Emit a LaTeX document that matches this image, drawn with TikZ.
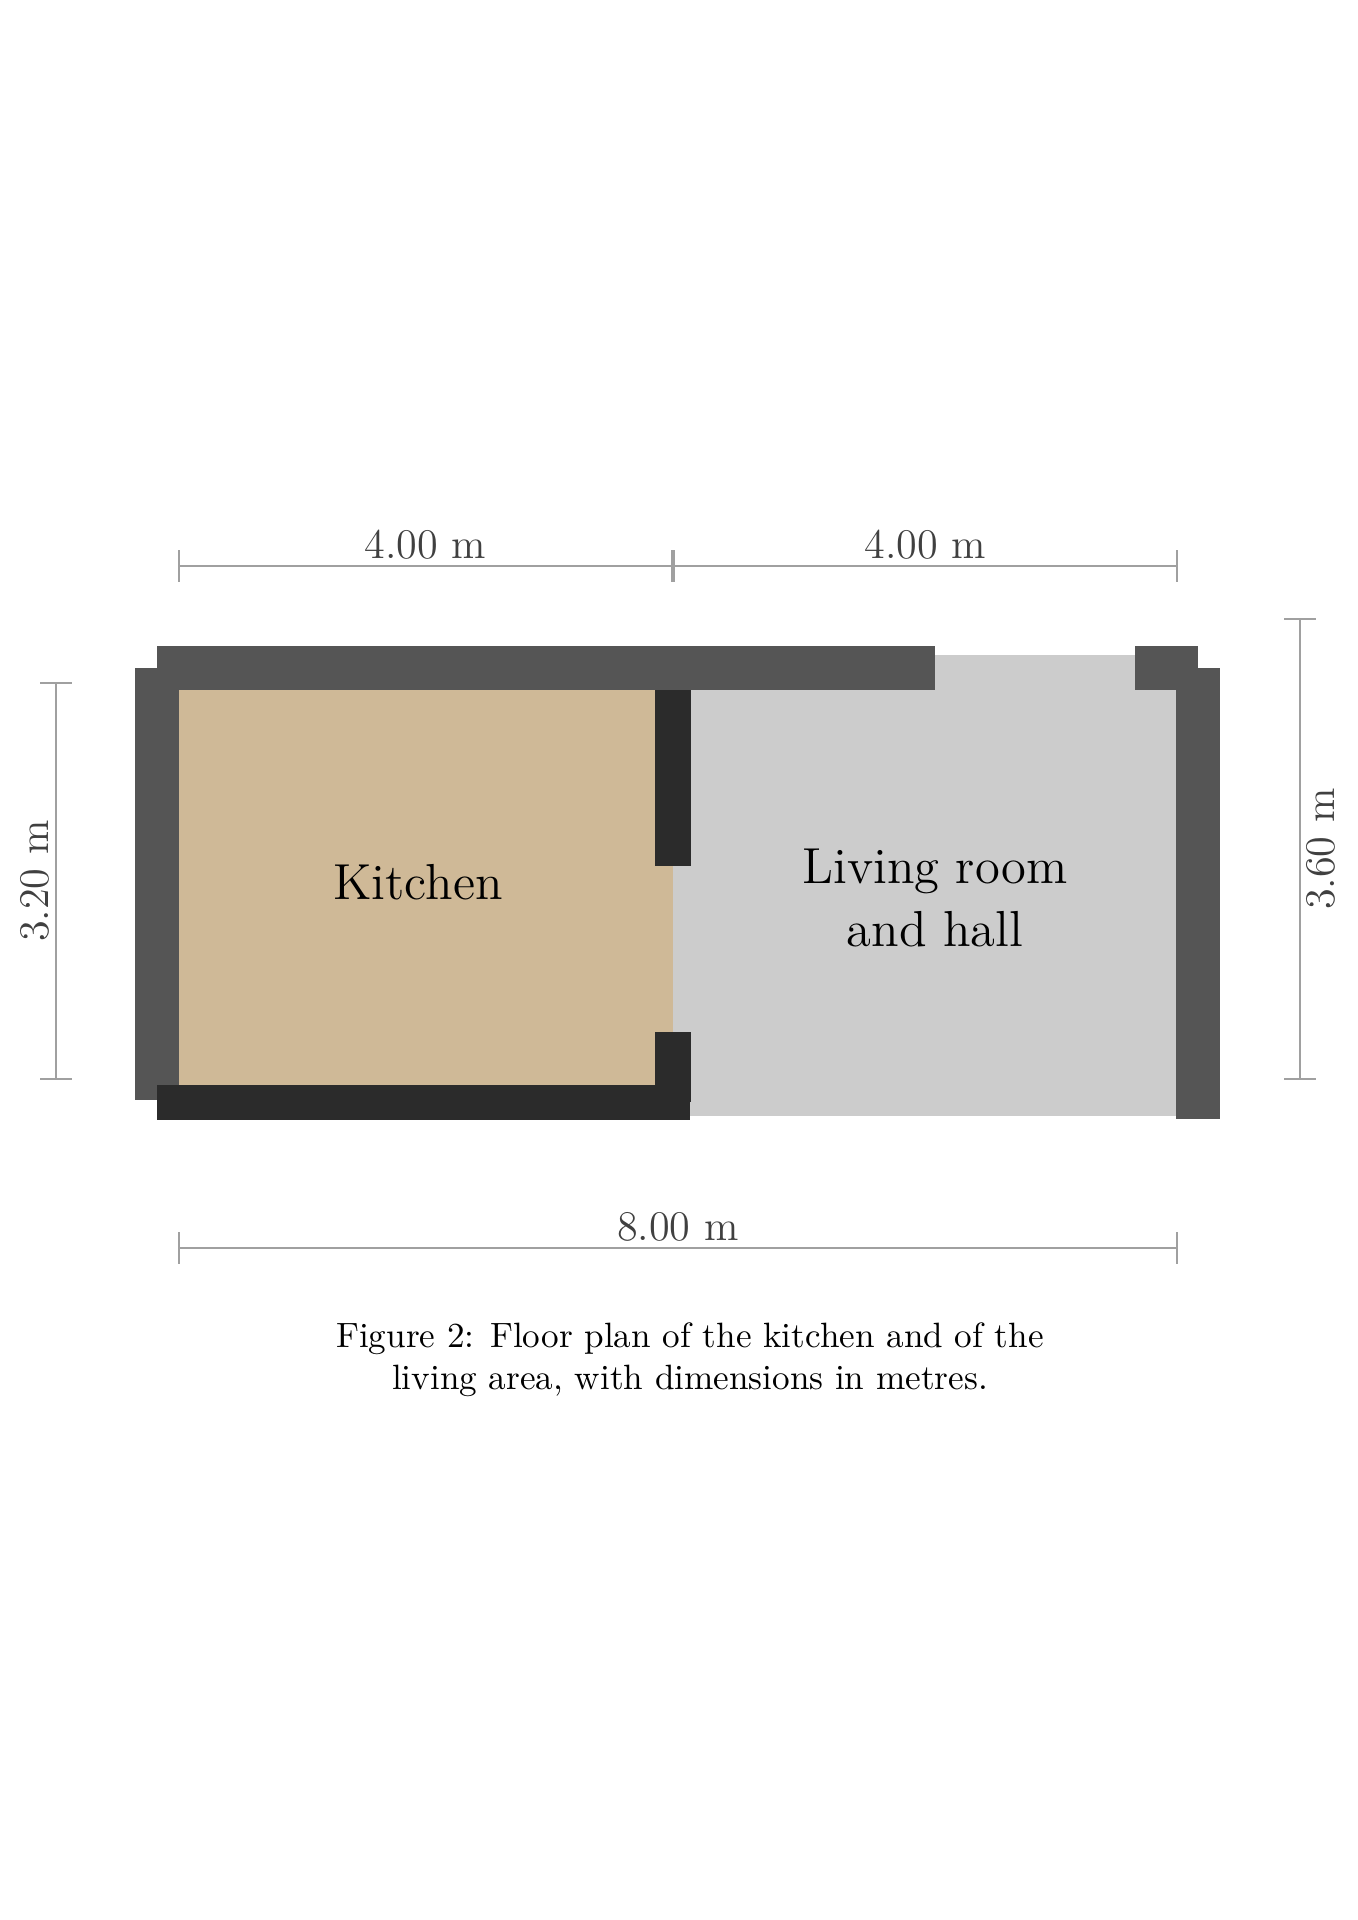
\documentclass[tikz,border=0pt]{standalone}
\usepackage{tikz}
\usetikzlibrary{arrows.meta}
\definecolor{wallgray}{HTML}{555555}
\definecolor{walldark}{HTML}{2B2B2B}
\definecolor{tanfill}{HTML}{CFB997}
\definecolor{roomgray}{HTML}{CCCCCC}
\definecolor{dimgray}{HTML}{A0A0A0}

\begin{document}
\begin{tikzpicture}[x=0.01cm,y=-0.01cm,
    wall/.style={wallgray,line width=0.44cm},
    partwall/.style={walldark,line width=0.35cm},
    dimline/.style={dimgray,line width=0.7pt,{Bar[width=9pt]}-{Bar[width=9pt]}},
    dimtext/.style={font=\large,text=black!75,inner sep=1.5pt},
    roomtext/.style={font=\Large,align=center}]
  \useasboundingbox (0,0) rectangle (1358,1920);

  \fill[tanfill] (157,668) rectangle (673,1100);
  \fill[roomgray] (673,655) rectangle (1198,1116);

  \draw[wall] (157,668) -- (157,1100);
  \draw[wall] (157,668) -- (935,668);
  \draw[wall] (1135,668) -- (1198,668);
  \draw[wall] (1198,668) -- (1198,1119);
  \draw[partwall] (157,1102) -- (690,1102);
  \draw[partwall] (673,690) -- (673,866);
  \draw[partwall] (673,1032) -- (673,1102);

  \node[roomtext] (kitchen) at (418,882) {Kitchen};
  \node[roomtext] (living) at (935,898) {Living room\\and hall};

  \coordinate (t1) at (178,566);
  \coordinate (t2) at (673,566);
  \coordinate (t3) at (1178,566);
  \draw[dimline] (t1) -- node[dimtext,above] (wa) {4.00 m} (t2);
  \draw[dimline] (t2) -- node[dimtext,above] (wb) {4.00 m} (t3);

  \coordinate (b1) at (178,1248);
  \coordinate (b2) at (1178,1248);
  \draw[dimline] (b1) -- node[dimtext,above] (wc) {8.00 m} (b2);

  \coordinate (l1) at (56,1080);
  \coordinate (l2) at (56,682);
  \draw[dimline] (l1) -- node[dimtext,above,sloped] (ha) {3.20 m} (l2);

  \coordinate (r1) at (1300,1080);
  \coordinate (r2) at (1300,618);
  \draw[dimline] (r1) -- node[dimtext,below,sloped] (hb) {3.60 m} (r2);

  \node[align=center] (caption) at (690,1360)
    {Figure 2: Floor plan of the kitchen and of the\\living area, with dimensions in metres.};
\end{tikzpicture}
\end{document}
